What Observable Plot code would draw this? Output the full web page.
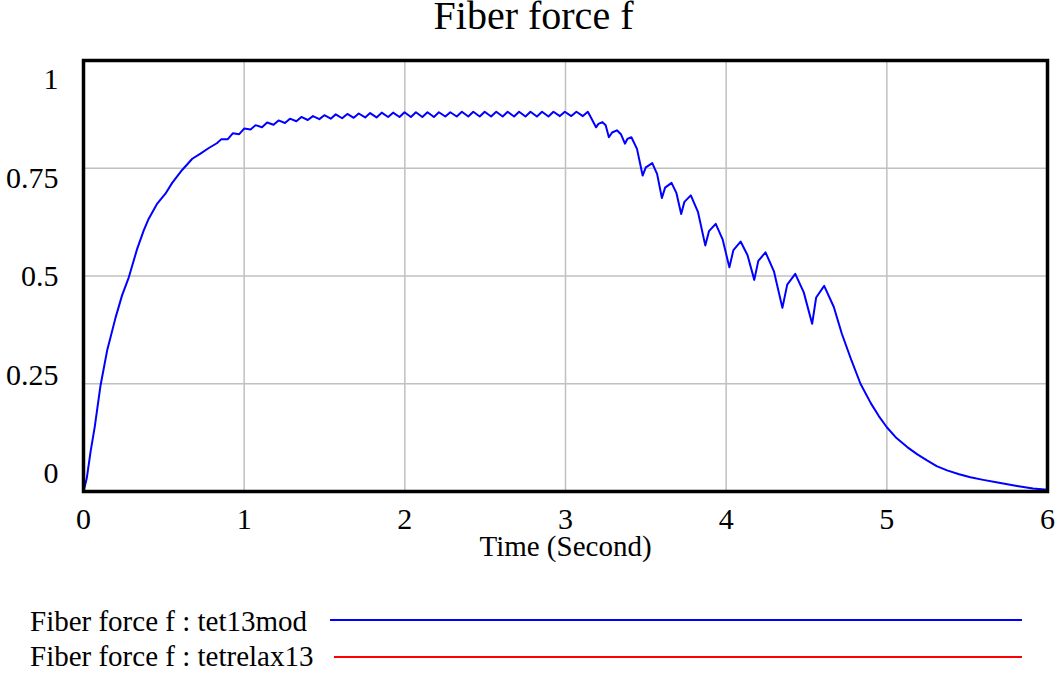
<!DOCTYPE html>
<html><head><meta charset="utf-8">
<script src="https://cdn.jsdelivr.net/npm/d3@7"></script>
<script src="https://cdn.jsdelivr.net/npm/@observablehq/plot@0.6"></script>
<style>
body{margin:0;background:#fff;font-family:"Liberation Serif","Times New Roman",serif;color:#000;}
#wrap{position:relative;width:1057px;height:674px;overflow:hidden;background:#fff;}
#title{position:absolute;left:5px;top:0;width:1057px;text-align:center;font-size:40px;line-height:40px;white-space:nowrap;}
.leg{position:absolute;left:30px;font-size:29px;line-height:36px;white-space:nowrap;}
.legline{position:absolute;height:2px;}
</style>
</head><body>
<div id="wrap"><div id="title"></div></div>
<script>
const chartTitle = "Fiber force f";
const xLabel = "Time (Second)";
const seriesNames = ["tet13mod", "tetrelax13"];
const seriesColors = ["#0000ff", "#ff0000"];
const xTicks = [0, 1, 2, 3, 4, 5, 6];
const yTicks = [0, 0.25, 0.5, 0.75, 1];
const xGrid = [1, 2, 3, 4, 5];
const yGrid = [0.25, 0.5, 0.75];

// Fiber force f : tet13mod  (time in seconds, force)
const time = [
  0, 0.02, 0.045, 0.07, 0.106, 0.147, 0.2, 0.24, 0.282, 0.334, 0.375, 0.406, 0.459, 0.51, 0.552, 0.614, 0.677, 0.728, 0.78, 0.83,
  0.857, 0.897, 0.929, 0.969, 1.000, 1.040, 1.071, 1.111, 1.143, 1.183, 1.214, 1.254, 1.285, 1.325, 1.356, 1.396,
  1.428, 1.468, 1.499, 1.539, 1.570, 1.610, 1.642, 1.682, 1.713, 1.753, 1.784, 1.824, 1.856, 1.896, 1.927, 1.967,
  1.998, 2.038, 2.069, 2.109, 2.141, 2.181, 2.212, 2.252, 2.283, 2.323, 2.355, 2.395, 2.426, 2.466, 2.497, 2.537,
  2.569, 2.609, 2.640, 2.680, 2.711, 2.751, 2.782, 2.822, 2.854, 2.894, 2.925, 2.965, 2.996, 3.036, 3.068, 3.108, 3.139,
  3.155, 3.19, 3.205, 3.23, 3.25, 3.27, 3.29, 3.32, 3.345, 3.37, 3.385, 3.41, 3.445, 3.48, 3.50, 3.54, 3.57, 3.60,
  3.62, 3.66, 3.69, 3.72, 3.74, 3.78, 3.825, 3.87, 3.893, 3.935, 3.978, 4.02, 4.045, 4.09, 4.133, 4.175, 4.2, 4.245,
  4.298, 4.35, 4.38, 4.43, 4.483, 4.535, 4.56, 4.61, 4.67, 4.72, 4.78, 4.836, 4.90, 4.95, 5.0, 5.06, 5.127, 5.19, 5.25,
  5.31, 5.375, 5.45, 5.52, 5.6, 5.69, 5.81, 5.91, 6.0
];
const tet13mod = [
  0, 0.03, 0.095, 0.15, 0.246, 0.327, 0.404, 0.455, 0.497, 0.563, 0.606, 0.633, 0.668, 0.691, 0.716, 0.746, 0.772, 0.784, 0.797, 0.808,
  0.817, 0.817, 0.831, 0.829, 0.842, 0.840, 0.850, 0.845, 0.856, 0.851, 0.861, 0.855, 0.865, 0.859, 0.869, 0.862,
  0.871, 0.864, 0.873, 0.865, 0.875, 0.866, 0.876, 0.867, 0.877, 0.868, 0.878, 0.868, 0.879, 0.869, 0.879, 0.869,
  0.880, 0.869, 0.880, 0.869, 0.880, 0.869, 0.880, 0.870, 0.880, 0.870, 0.881, 0.870, 0.881, 0.870, 0.881, 0.870,
  0.881, 0.870, 0.881, 0.870, 0.881, 0.870, 0.881, 0.870, 0.881, 0.870, 0.881, 0.871, 0.881, 0.871, 0.881, 0.871, 0.881,
  0.870, 0.845, 0.853, 0.857, 0.850, 0.822, 0.833, 0.838, 0.829, 0.807, 0.818, 0.822, 0.795, 0.733, 0.752, 0.762, 0.737, 0.681,
  0.705, 0.716, 0.693, 0.644, 0.672, 0.687, 0.648, 0.571, 0.604, 0.621, 0.585, 0.520, 0.560, 0.580, 0.548, 0.491, 0.535, 0.555,
  0.510, 0.426, 0.480, 0.505, 0.462, 0.389, 0.450, 0.477, 0.428, 0.366, 0.304, 0.250, 0.205, 0.175, 0.149, 0.124, 0.103, 0.086, 0.072,
  0.059, 0.049, 0.040, 0.033, 0.027, 0.021, 0.013, 0.007, 0.004
];

const data = time.map((t, i) => ({t, f: tet13mod[i]}));

const titleEl = document.getElementById("title");
titleEl.textContent = chartTitle;
titleEl.style.top = "-4px";

const chart = Plot.plot({
  width: 1057,
  height: 530,
  marginTop: 10,
  marginLeft: 83,
  marginRight: 10,
  marginBottom: 89,
  style: {fontFamily: "'Liberation Serif','Times New Roman',serif", fontSize: "30px", background: "transparent", overflow: "visible"},
  x: {domain: [0, 6], axis: null},
  y: {domain: [0, 1], axis: null},
  marks: [
    Plot.ruleX(xGrid, {stroke: "#c0c0c0", strokeWidth: 1.5}),
    Plot.ruleY(yGrid, {stroke: "#c0c0c0", strokeWidth: 1.5}),
    Plot.line(data, {x: "t", y: "f", stroke: seriesColors[0], strokeWidth: 2}),
    Plot.frame({stroke: "black", strokeWidth: 3.5}),
    Plot.text(xTicks, {x: d => d, frameAnchor: "bottom", lineAnchor: "middle", dy: 28, text: d => String(d), fontSize: 30}),
    Plot.text(yTicks, {y: d => 0.042 + 0.914 * d, frameAnchor: "left", lineAnchor: "middle", dx: -25, textAnchor: "end", text: d => String(d), fontSize: 30}),
    Plot.text([xLabel], {frameAnchor: "bottom", lineAnchor: "middle", dy: 55, fontSize: 29})
  ]
});
chart.style.position = "absolute";
chart.style.left = "0px";
chart.style.top = "50px";
const wrap = document.getElementById("wrap");
wrap.appendChild(chart);

const legTops = [603, 638];
const lineTops = [619, 656];
const lineLefts = [330, 334];
seriesNames.forEach((s, i) => {
  const d = document.createElement("div");
  d.className = "leg";
  d.style.top = legTops[i] + "px";
  d.textContent = chartTitle + " : " + s;
  wrap.appendChild(d);
  const l = document.createElement("div");
  l.className = "legline";
  l.style.top = lineTops[i] + "px";
  l.style.left = lineLefts[i] + "px";
  l.style.width = (1022 - lineLefts[i]) + "px";
  l.style.background = seriesColors[i];
  wrap.appendChild(l);
});
</script>
</body></html>
